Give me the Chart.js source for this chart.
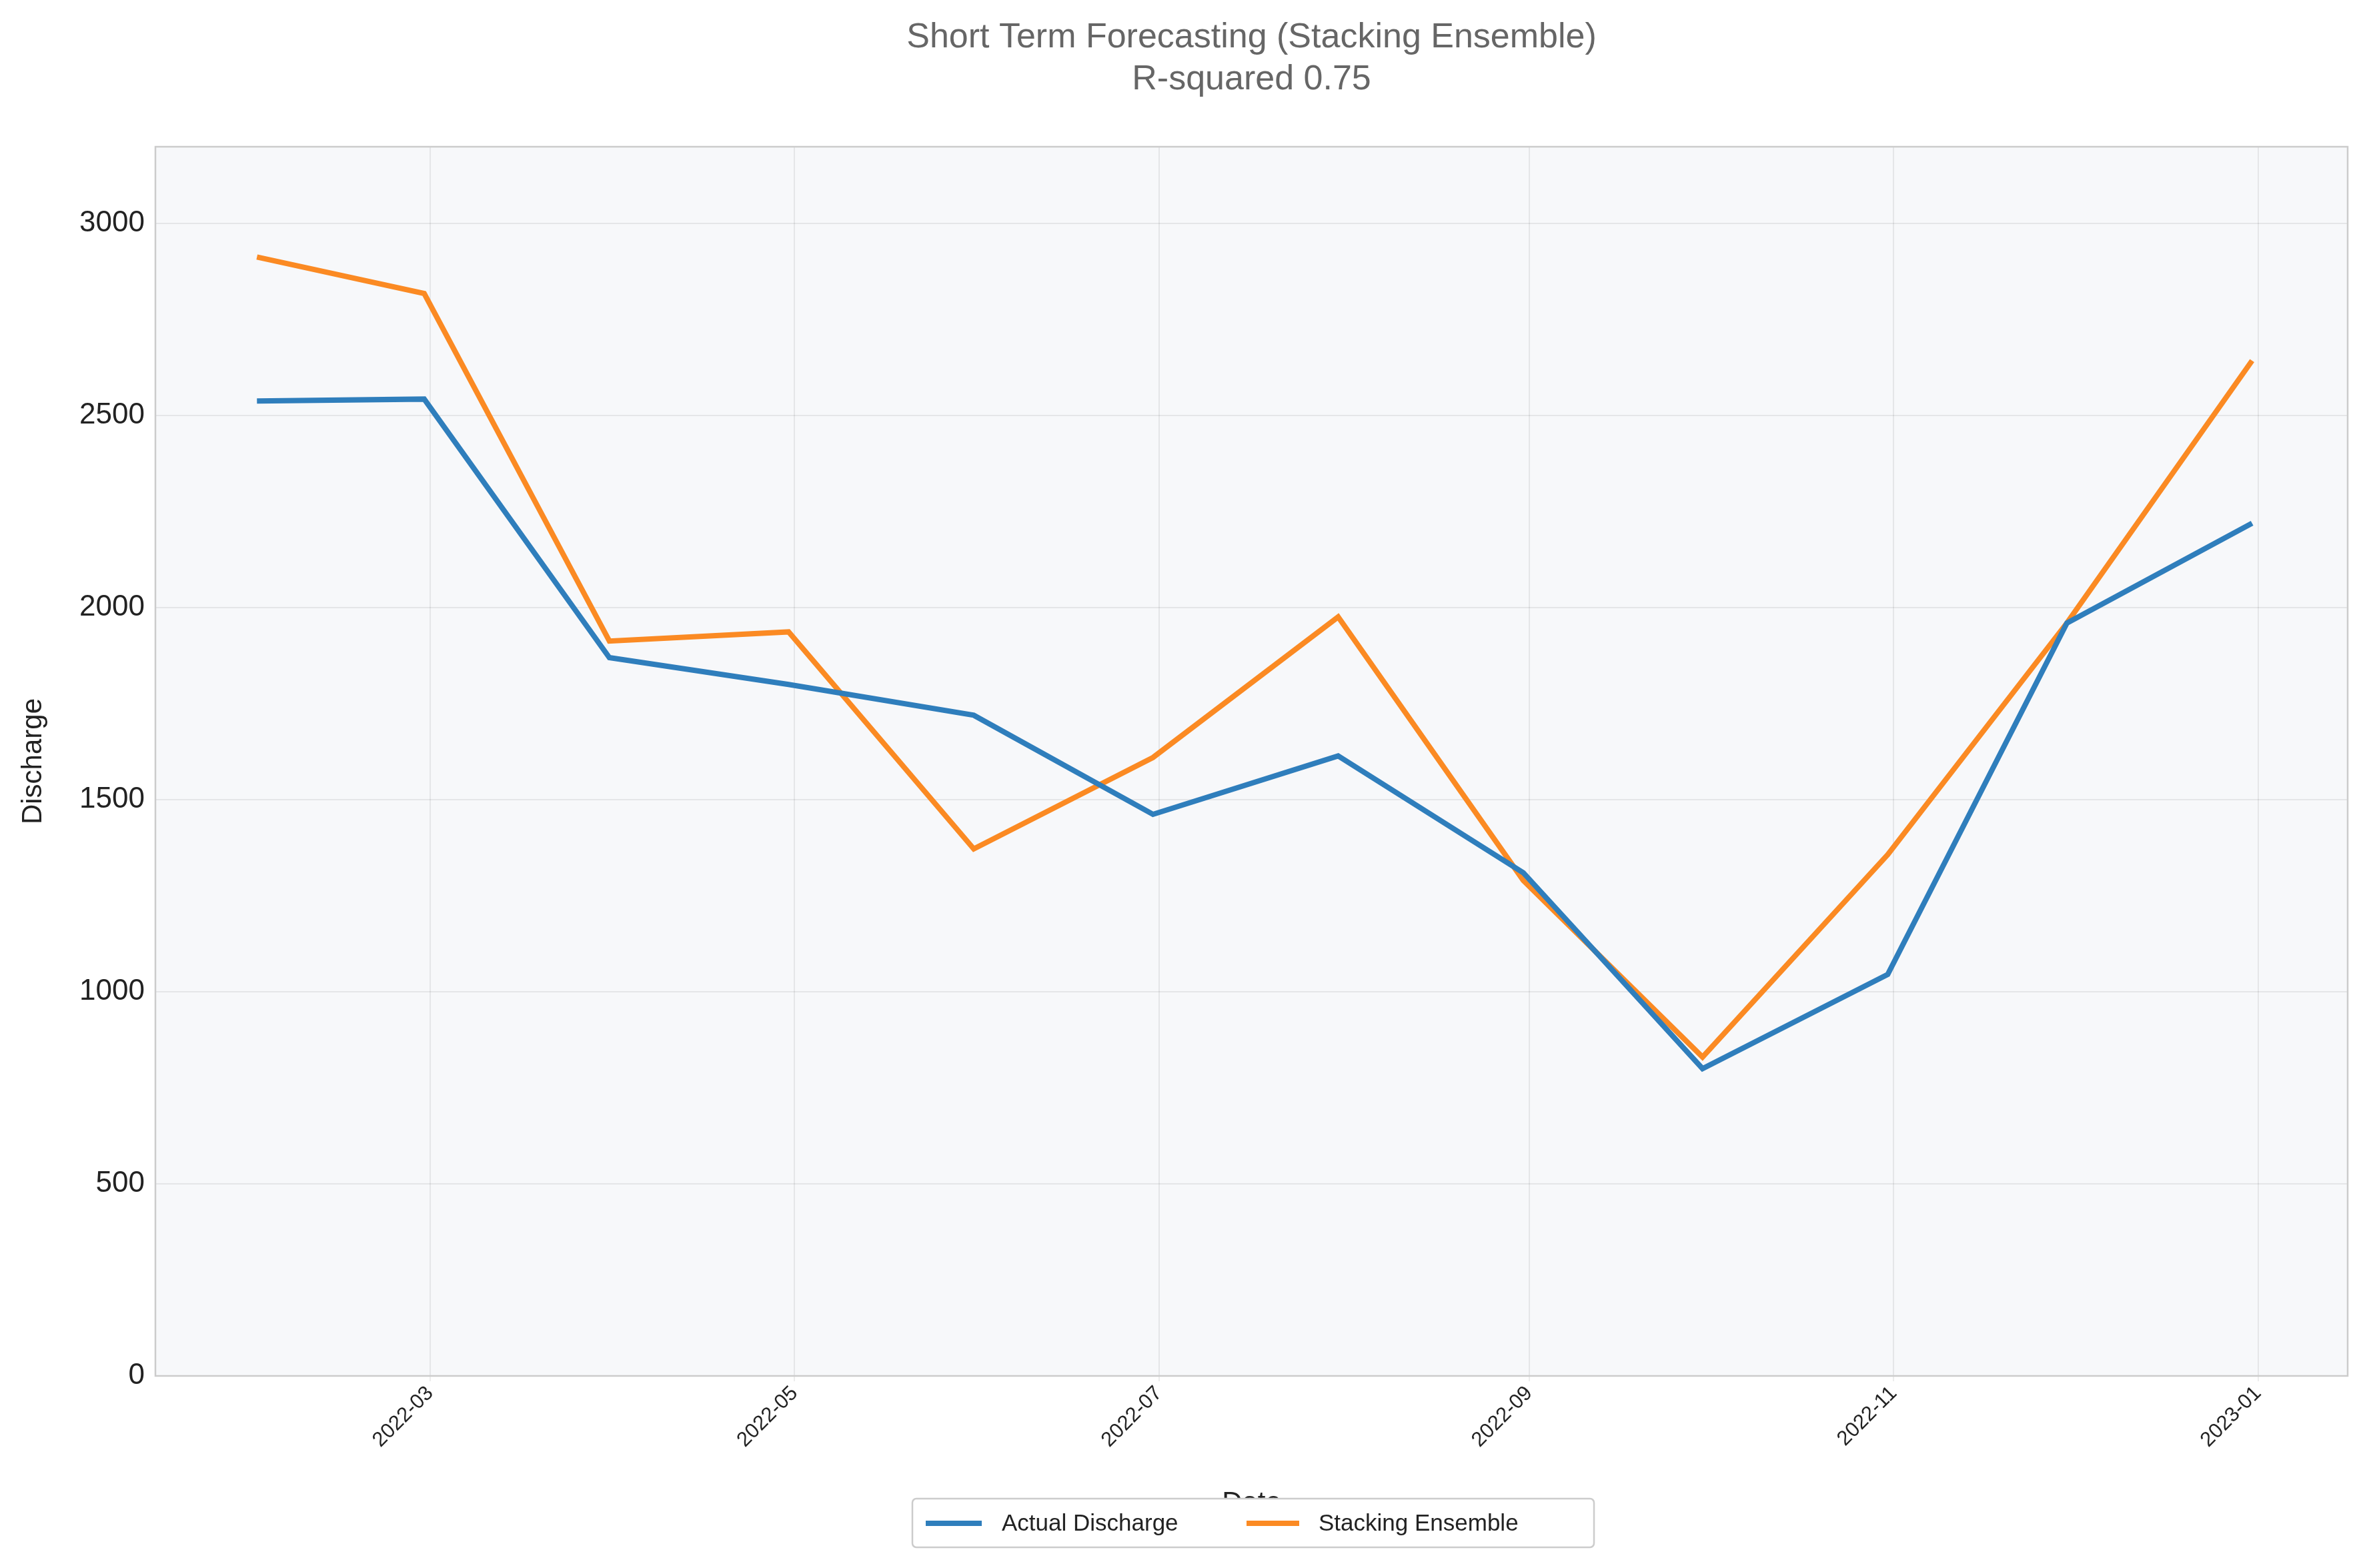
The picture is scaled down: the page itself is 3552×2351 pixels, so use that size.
<!DOCTYPE html>
<html>
<head>
<meta charset="utf-8">
<script src="https://cdn.jsdelivr.net/npm/chart.js@4"></script>
<style>
  body { margin: 0; background: #fff; }
  canvas { display: block; }
</style>
</head>
<body>
<canvas id="chart" width="3552" height="2351"></canvas>
<script>
// ==================== DATA ====================

const dates = [
  "2022-01-31", "2022-02-28", "2022-03-31", "2022-04-30",
  "2022-05-31", "2022-06-30", "2022-07-31", "2022-08-31",
  "2022-09-30", "2022-10-31", "2022-11-30", "2022-12-31",
];
const actualDischarge = [2538, 2543, 1870, 1800, 1720, 1462, 1614, 1310, 800, 1045, 1960, 2220];
const stackingEnsemble = [2913, 2818, 1913, 1937, 1372, 1610, 1976, 1290, 830, 1357, 1960, 2643];
const xTickLabels = ["2022-03", "2022-05", "2022-07", "2022-09", "2022-11", "2023-01"];
const yTicks = [0, 500, 1000, 1500, 2000, 2500, 3000];

const DAY = 86400000;
const dayNum = (s) => Date.parse(s + "T00:00:00Z") / DAY;
const fmtMonth = (d) => new Date(d * DAY).toISOString().slice(0, 7);

const BLUE = "#2f7ebc";
const ORANGE = "#fb8a23";
const FONT = "'Liberation Sans', Arial, sans-serif";

// ==================== PLUGINS ====================

const decor = {
  id: "decor",
  beforeDraw(chart) {
    const { ctx, chartArea: a } = chart;
    ctx.save();
    ctx.fillStyle = "#f7f8fa";
    ctx.fillRect(a.left, a.top, a.right - a.left, a.bottom - a.top);
    ctx.restore();
  },
  afterDraw(chart) {
    const { ctx, chartArea: a } = chart;
    ctx.save();
    // plot frame
    ctx.strokeStyle = "#cccccc";
    ctx.lineWidth = 2.5;
    ctx.strokeRect(a.left, a.top, a.right - a.left, a.bottom - a.top);

    // title
    ctx.fillStyle = "#666666";
    ctx.textAlign = "center";
    ctx.textBaseline = "middle";
    ctx.font = "52px " + FONT;
    const cx = (a.left + a.right) / 2;
    ctx.fillText("Short Term Forecasting (Stacking Ensemble)", cx, 57);
    ctx.fillText("R-squared 0.75", cx, 120);

    // axis titles
    ctx.fillStyle = "#222";
    ctx.font = "42px " + FONT;
    ctx.fillText("Date", cx, 2254);
    ctx.translate(50, (a.top + a.bottom) / 2);
    ctx.rotate(-Math.PI / 2);
    ctx.fillText("Discharge", 0, 0);
    ctx.restore();

    // legend
    ctx.save();
    ctx.fillStyle = "#ffffff";
    ctx.strokeStyle = "#cccccc";
    ctx.lineWidth = 2.5;
    ctx.beginPath();
    ctx.roundRect(1368, 2247, 1022, 73, 6);
    ctx.fill();
    ctx.stroke();
    ctx.lineWidth = 8;
    ctx.strokeStyle = BLUE;
    ctx.beginPath(); ctx.moveTo(1388, 2284); ctx.lineTo(1472, 2284); ctx.stroke();
    ctx.strokeStyle = ORANGE;
    ctx.beginPath(); ctx.moveTo(1869, 2284); ctx.lineTo(1948, 2284); ctx.stroke();
    ctx.fillStyle = "#222";
    ctx.font = "35px " + FONT;
    ctx.textBaseline = "middle";
    ctx.fillText("Actual Discharge", 1502, 2285);
    ctx.fillText("Stacking Ensemble", 1977, 2285);
    ctx.restore();
  },
};

// ==================== CHART ====================

new Chart(document.getElementById("chart").getContext("2d"), {
  type: "line",
  data: {
    datasets: [
      {
        label: "Actual Discharge",
        data: dates.map((d, i) => ({ x: dayNum(d), y: actualDischarge[i] })),
        borderColor: BLUE,
        borderWidth: 8,
        pointRadius: 0,
        tension: 0,
      },
      {
        label: "Stacking Ensemble",
        data: dates.map((d, i) => ({ x: dayNum(d), y: stackingEnsemble[i] })),
        borderColor: ORANGE,
        borderWidth: 8,
        pointRadius: 0,
        tension: 0,
      },
    ],
  },
  options: {
    responsive: false,
    animation: false,
    devicePixelRatio: 1,
    layout: { padding: { top: 220, right: 32, left: 0, bottom: 0 } },
    plugins: { legend: { display: false }, tooltip: { enabled: false } },
    scales: {
      x: {
        type: "linear",
        min: dayNum("2022-01-14"),
        max: dayNum("2023-01-16"),
        afterFit: (s) => { s.height = 288; },
        afterBuildTicks: (s) => {
          s.ticks = xTickLabels.map((m) => ({ value: dayNum(m + "-01") }));
        },
        ticks: {
          autoSkip: false,
          maxRotation: 45,
          minRotation: 45,
          padding: 0,
          color: "#222",
          font: { size: 31, family: FONT },
          callback: (v) => fmtMonth(v),
        },
        grid: { color: "rgba(0,0,0,0.07)", lineWidth: 2, tickLength: 8 },
        border: { display: false },
      },
      y: {
        min: 0,
        max: 3200,
        afterFit: (s) => { s.width = 233; },
        afterBuildTicks: (s) => { s.ticks = yTicks.map((v) => ({ value: v })); },
        ticks: {
          padding: 16,
          color: "#222",
          font: { size: 44, family: FONT },
          callback: (v) => String(v),
        },
        grid: { color: "rgba(0,0,0,0.07)", lineWidth: 2, tickLength: 0 },
        border: { display: false },
      },
    },
  },
  plugins: [decor],
});
</script>
</body>
</html>
